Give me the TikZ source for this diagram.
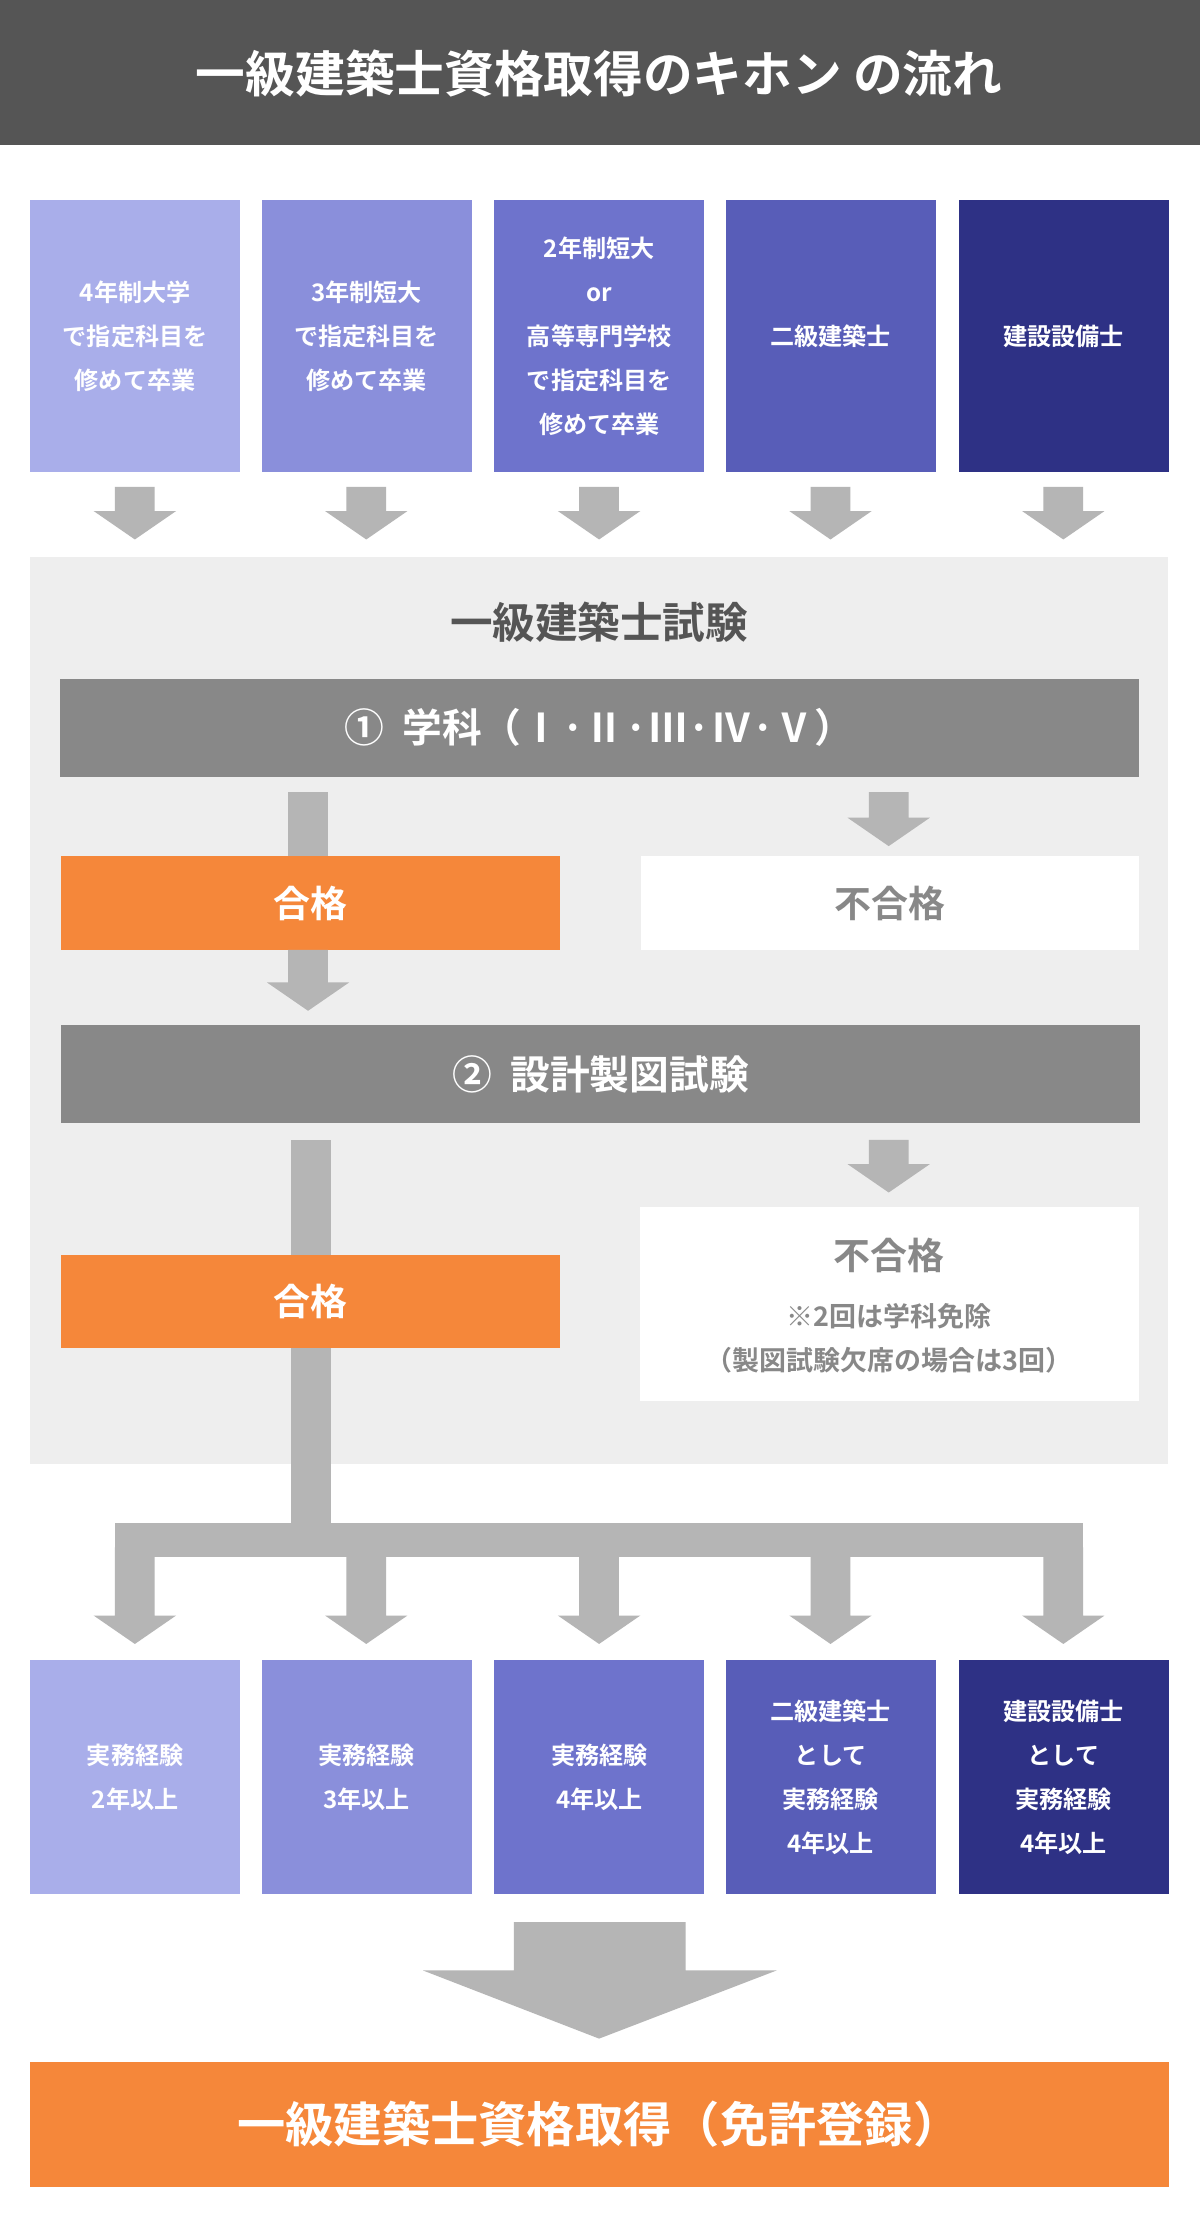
\documentclass[tikz,border=0pt]{standalone}
\usepackage{fontspec}
\setmainfont{Noto Sans CJK JP}[BoldFont={Noto Sans CJK JP Bold}]
\definecolor{hdr}{HTML}{555555}
\definecolor{ca}{HTML}{A9AEEA}
\definecolor{cb}{HTML}{8A8FDB}
\definecolor{cc}{HTML}{6E73CC}
\definecolor{cd}{HTML}{585DB8}
\definecolor{ce}{HTML}{2E3185}
\definecolor{panel}{HTML}{EEEEEE}
\definecolor{bar}{HTML}{888888}
\definecolor{org}{HTML}{F5873A}
\definecolor{arr}{HTML}{B5B5B5}
\newcommand{\darr}[3]{\fill[arr] (#1-14,#2) -- (#1+14,#2) -- (#1+14,#3-20) -- (#1+29,#3-20) -- (#1,#3) -- (#1-29,#3-20) -- (#1-14,#3-20) -- cycle;}
\begin{document}
\begin{tikzpicture}[x=1pt,y=-1pt,
 box/.style={anchor=north west,inner sep=0,align=center,text=white,font=\bfseries\fontsize{17}{31}\selectfont},
 bartext/.style={text=white,font=\bfseries\fontsize{28}{32}\selectfont}]
\useasboundingbox (0,0) rectangle (845,1568);
\fill[white] (0,0) rectangle (845,1568);
\fill[hdr] (0,0) rectangle (845,102);
\node[text=white,font=\bfseries\fontsize{35}{40}\selectfont] (title) at (422,52) {一級建築士資格取得のキホン の流れ};
% top boxes
\foreach \x/\c/\t [count=\i] in {21/ca/{4年制大学\\で指定科目を\\修めて卒業},184/cb/{3年制短大\\で指定科目を\\修めて卒業},348/cc/{2年制短大\\or\\高等専門学校\\で指定科目を\\修めて卒業},511/cd/{二級建築士},675/ce/{建設設備士}}{
 \node[box,fill=\c,minimum width=148,minimum height=191] (t\i) at (\x,141) {\t};
 \darr{\x+74}{343}{380}
}
\fill[panel] (21,392) rectangle (823,1031);
\node[text=hdr,font=\bfseries\fontsize{30}{34}\selectfont] (exam) at (422,438) {一級建築士試験};
\node[fill=bar,minimum width=760,minimum height=69,inner sep=0,anchor=north west,bartext] (b1) at (42,478) {①\ \ 学科（Ⅰ·Ⅱ·Ⅲ·Ⅳ·Ⅴ）};
\fill[arr] (203,558) rectangle (231,603);
\darr{626}{558}{596}
\node[fill=org,minimum width=351,minimum height=66,inner sep=0,anchor=north west,bartext,font=\bfseries\fontsize{26}{30}\selectfont] (p1) at (43,603) {合格};
\node[fill=white,minimum width=351,minimum height=66,inner sep=0,anchor=north west,text=bar,font=\bfseries\fontsize{26}{30}\selectfont] (f1) at (451,603) {不合格};
\darr{217}{669}{712}
\node[fill=bar,minimum width=760,minimum height=69,inner sep=0,anchor=north west,bartext] (b2) at (43,722) {②\ \ 設計製図試験};
\fill[arr] (205,803) rectangle (233,1097);
\darr{626}{803}{840}
\node[fill=org,minimum width=351,minimum height=65,inner sep=0,anchor=north west,bartext,font=\bfseries\fontsize{26}{30}\selectfont] (p2) at (43,884) {合格};
\fill[white] (451,850) rectangle (802,987);
\node[text=bar,font=\bfseries\fontsize{26}{30}\selectfont] (f2) at (626,884) {不合格};
\node[text=bar,font=\bfseries\fontsize{19}{22}\selectfont] (f2a) at (626,927) {※2回は学科免除};
\node[text=bar,font=\bfseries\fontsize{19}{22}\selectfont] (f2b) at (626,958) {（製図試験欠席の場合は3回）};
\fill[arr] (81,1073) rectangle (763,1097);
\foreach \x/\c/\t [count=\i] in {21/ca/{実務経験\\2年以上},184/cb/{実務経験\\3年以上},348/cc/{実務経験\\4年以上},511/cd/{二級建築士\\として\\実務経験\\4年以上},675/ce/{建設設備士\\として\\実務経験\\4年以上}}{
 \darr{\x+74}{1090}{1158}
 \node[box,fill=\c,minimum width=148,minimum height=165] (e\i) at (\x,1169) {\t};
}
\fill[arr] (362,1354) -- (483,1354) -- (483,1388) -- (547,1388) -- (422,1436) -- (298,1388) -- (362,1388) -- cycle;
\node[fill=org,minimum width=802,minimum height=88,inner sep=0,anchor=north west,text=white,font=\bfseries\fontsize{34}{38}\selectfont] (final) at (21,1452) {一級建築士資格取得（免許登録）};
\end{tikzpicture}
\end{document}
